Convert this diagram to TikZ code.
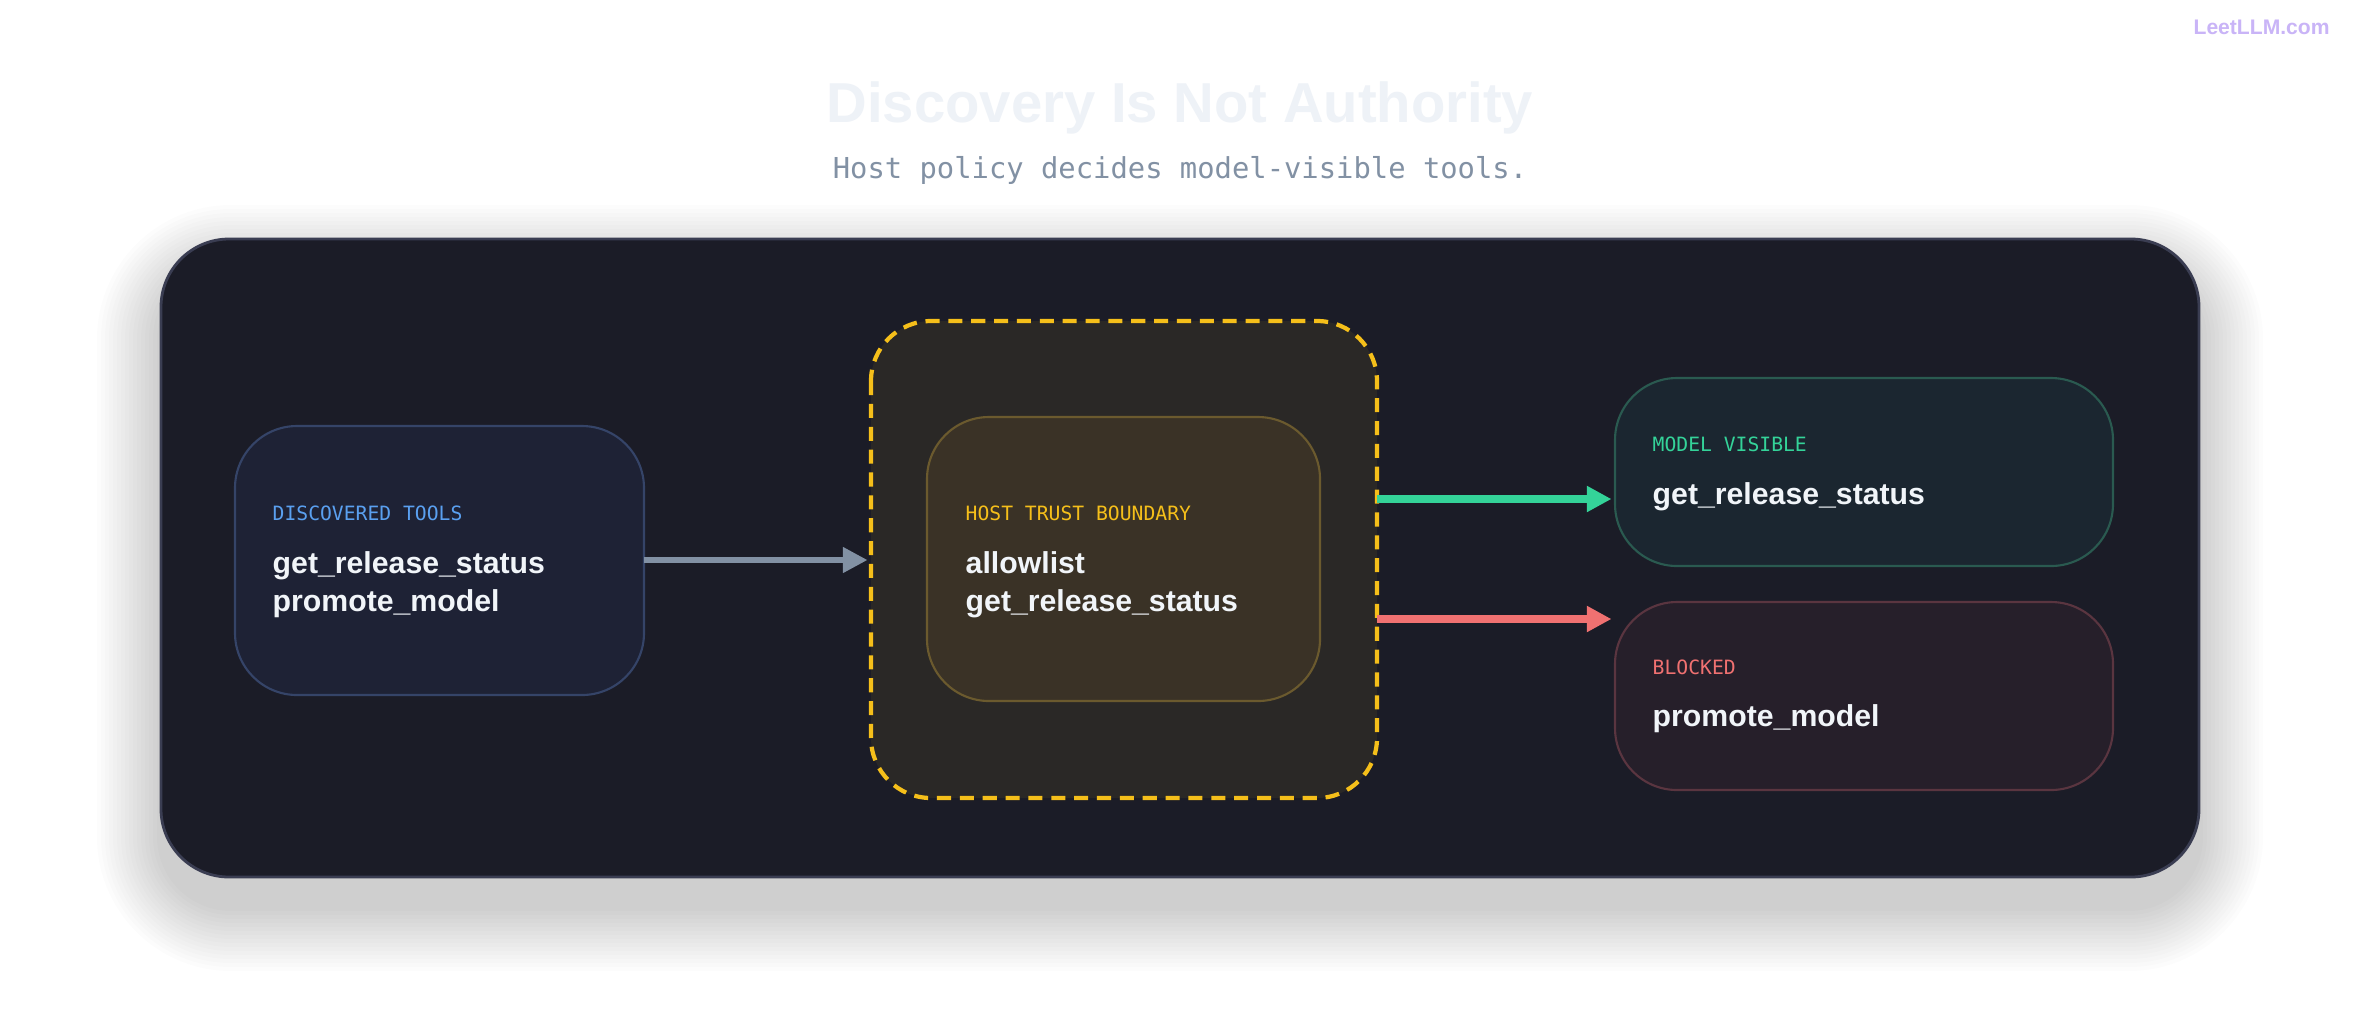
\documentclass[tikz,border=0pt]{standalone}
\usepackage{fontspec}
\setmainfont{Liberation Sans}
\setmonofont{DejaVu Sans Mono}
\usetikzlibrary{arrows.meta, positioning}

\definecolor{panelbg}{HTML}{1B1C27}
\definecolor{panelline}{HTML}{3A3D52}
\definecolor{textwhite}{HTML}{F1F5F9}
\definecolor{titlegray}{HTML}{EEF2F7}
\definecolor{markviolet}{HTML}{C9B4F7}
\definecolor{arrowgray}{HTML}{8291A4}
\definecolor{accgreen}{HTML}{34D399}
\definecolor{accred}{HTML}{F07171}
\definecolor{accyellow}{HTML}{F5BF1A}
\definecolor{accblue}{HTML}{5AA0F0}
\definecolor{discfill}{HTML}{1E2235}
\definecolor{discline}{HTML}{354468}
\definecolor{bandfill}{HTML}{2A2826}
\definecolor{hostfill}{HTML}{3A3226}
\definecolor{hostline}{HTML}{6B5A2E}
\definecolor{visfill}{HTML}{1B2630}
\definecolor{visline}{HTML}{2A5A50}
\definecolor{blkfill}{HTML}{261F2A}
\definecolor{blkline}{HTML}{5A3540}

\tikzset{
  box/.style={draw, rounded corners=0.62cm, line width=0.6pt},
  tag/.style={anchor=west, font=\ttfamily\fontsize{5.6}{7}\selectfont, inner sep=0pt},
  toolname/.style={anchor=west, align=left, font=\bfseries\fontsize{8.6}{10.8}\selectfont,
    text=textwhite, inner sep=0pt},
  flow/.style={line width=2.2pt, -{Triangle[length=7pt,width=7pt]}, shorten >=1pt}
}

\begin{document}
\begin{tikzpicture}[x=0.01cm, y=-0.01cm]
    \useasboundingbox (0,0) rectangle (2360,1008);
    \fill[white] (0,0) rectangle (2360,1008);

    % Title
    \node[font=\bfseries\fontsize{16}{18}\selectfont, text=titlegray] (title) at (1180,108) {Discovery Is Not Authority};
    \node[font=\ttfamily\fontsize{8.2}{10}\selectfont, text=arrowgray] (sub) at (1180,170) {Host policy decides model-visible tools.};
    \node[font=\bfseries\fontsize{6}{7}\selectfont, text=markviolet, anchor=east] (mark) at (2342,27) {LeetLLM.com};

    % Panel with soft shadow
    \foreach \s in {4,8,...,64} {
      \fill[black, opacity=0.012, rounded corners=0.7cm+\s*0.01cm] (161-\s,239-\s+30) rectangle (2199+\s,877+\s+30);
    }
    \draw[panelline, fill=panelbg, rounded corners=0.68cm, line width=0.8pt] (161,239) rectangle (2199,877);

    % Boxes
    \draw[box, draw=discline, fill=discfill] (235,426) rectangle (644,695);
    \draw[accyellow, dashed, line width=1.2pt, fill=bandfill, rounded corners=0.6cm,
        dash pattern=on 4pt off 2.5pt] (871,321) rectangle (1377,798);
    \draw[box, draw=hostline, fill=hostfill] (927,417) rectangle (1320,701);
    \draw[box, draw=visline, fill=visfill] (1615,378) rectangle (2113,566);
    \draw[box, draw=blkline, fill=blkfill] (1615,602) rectangle (2113,790);

    % Texts
    \node[tag, text=accblue] (disc) at (272,513) {DISCOVERED TOOLS};
    \node[toolname] (discnames) at (272,585) {get\_release\_status\\promote\_model};
    \node[tag, text=accyellow] (host) at (965,513) {HOST TRUST BOUNDARY};
    \node[toolname] (hostnames) at (965,585) {allowlist\\get\_release\_status};
    \node[tag, text=accgreen] (vis) at (1652,444) {MODEL VISIBLE};
    \node[toolname] (visname) at (1652,497) {get\_release\_status};
    \node[tag, text=accred] (blk) at (1652,667) {BLOCKED};
    \node[toolname] (blkname) at (1652,719) {promote\_model};

    % Connectors
    \coordinate (lout) at (644,560);
    \coordinate (bin) at (871,560);
    \coordinate (gout) at (1377,499);
    \coordinate (gin) at (1615,499);
    \coordinate (rout) at (1377,619);
    \coordinate (rin) at (1615,619);
    \draw[flow, arrowgray, line width=1.6pt] (lout) -- (bin);
    \draw[flow, accgreen] (gout) -- (gin);
    \draw[flow, accred] (rout) -- (rin);
\end{tikzpicture}
\end{document}
